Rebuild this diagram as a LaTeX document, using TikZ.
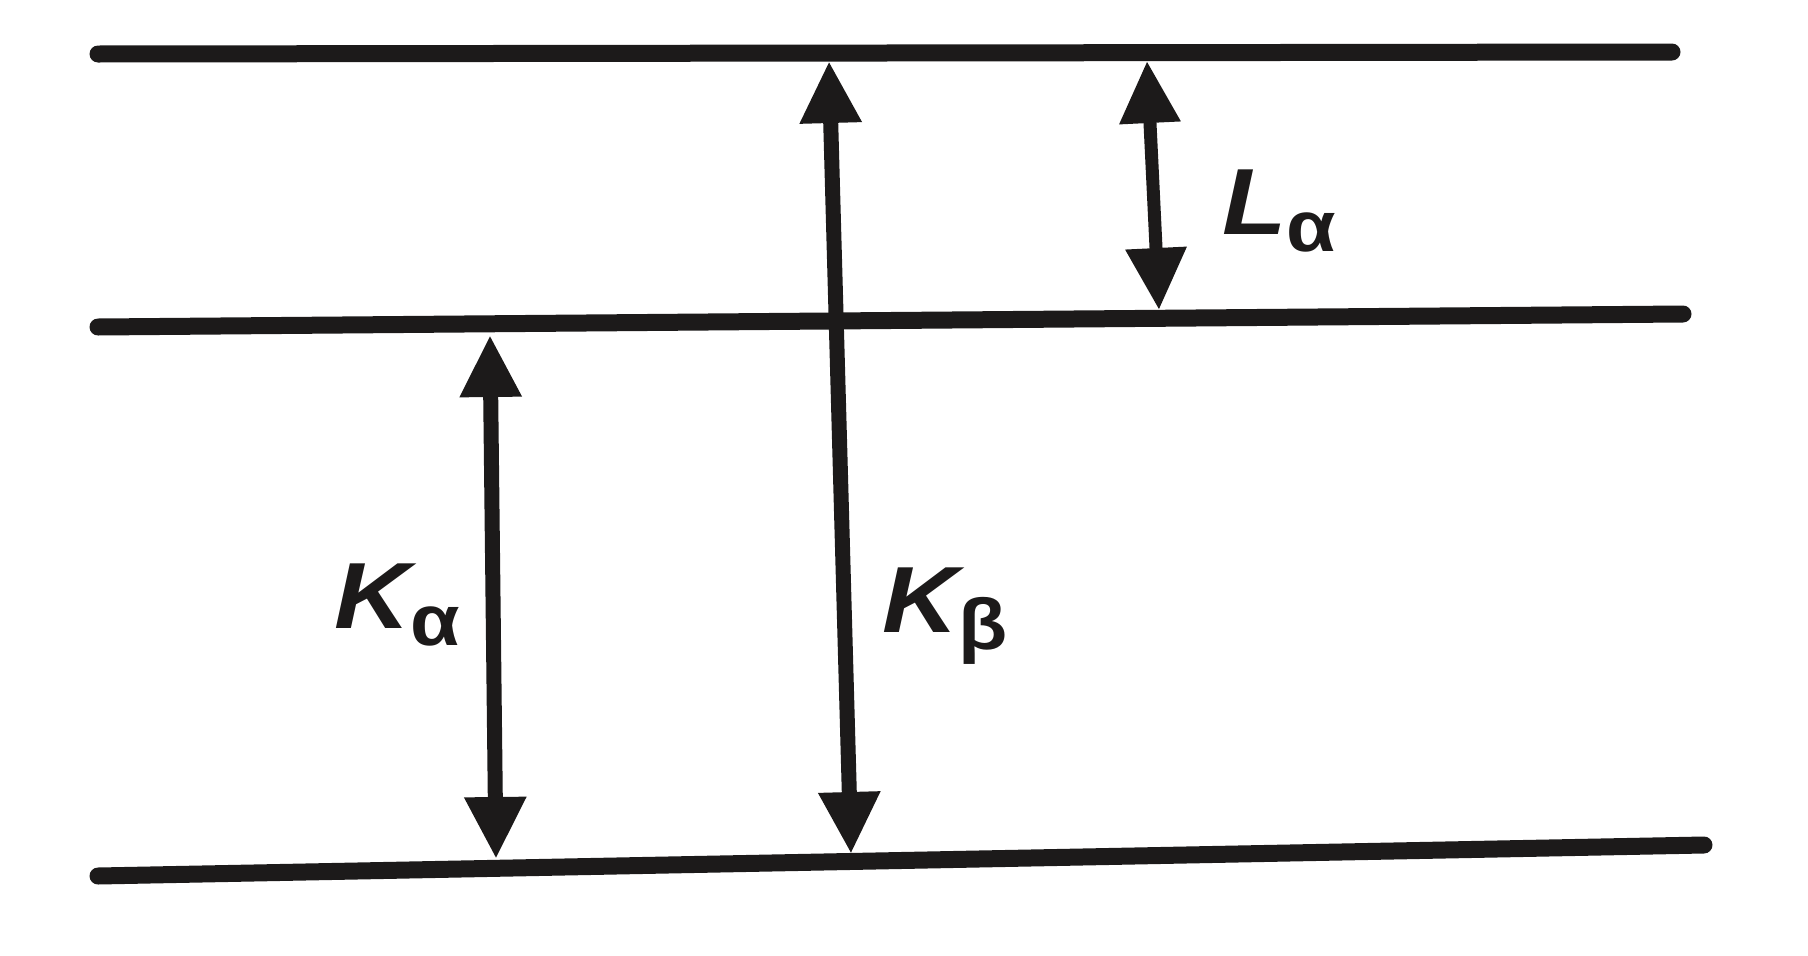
\documentclass[tikz,border=0pt]{standalone}
\usepackage{fontspec}
\setmainfont{Liberation Sans}
\usetikzlibrary{arrows.meta}
\definecolor{ink}{HTML}{1C1A1A}
\tikzset{
  level/.style={draw=ink, line width=17pt, line cap=round},
  trans/.style={draw=ink, line width=15pt, {Triangle[length=62pt,width=58pt]}-{Triangle[length=62pt,width=58pt]}},
  lab/.style={text=ink, inner sep=0pt, anchor=base west, font=\bfseries\itshape, xscale=1.12}
}
\newcommand{\lvlabel}[2]{{\fontsize{94}{94}\selectfont #1}\raisebox{-17pt}{\fontsize{72}{72}\selectfont\upshape #2}}
\begin{document}
\begin{tikzpicture}[x=1pt,y=-1pt]
\useasboundingbox (0,0) rectangle (1808,956);
% energy levels
\coordinate (t1) at (98,54); \coordinate (t2) at (1672,52);
\coordinate (m1) at (98,327); \coordinate (m2) at (1683,314);
\coordinate (b1) at (98,876); \coordinate (b2) at (1704,845);
\draw[level] (t1) -- (t2);
\draw[level] (m1) -- (m2);
\draw[level] (b1) -- (b2);
% transition end points
\coordinate (kaT) at (490,335); \coordinate (kaB) at (496,859);
\coordinate (kbT) at (829,61);  \coordinate (kbB) at (851,854);
\coordinate (laT) at (1147,61); \coordinate (laB) at (1159,310);
\draw[trans] (kaT) -- (kaB);
\draw[trans] (kbT) -- (kbB);
\draw[trans, line width=13pt] (laT) -- (laB);
% labels
\node[lab] (ka) at (334,628) {\lvlabel{K}{α}};
\node[lab] (kb) at (882,632) {\lvlabel{K}{β}};
\node[lab] (la) at (1222,234) {\lvlabel{L}{α}};
\end{tikzpicture}
\end{document}
